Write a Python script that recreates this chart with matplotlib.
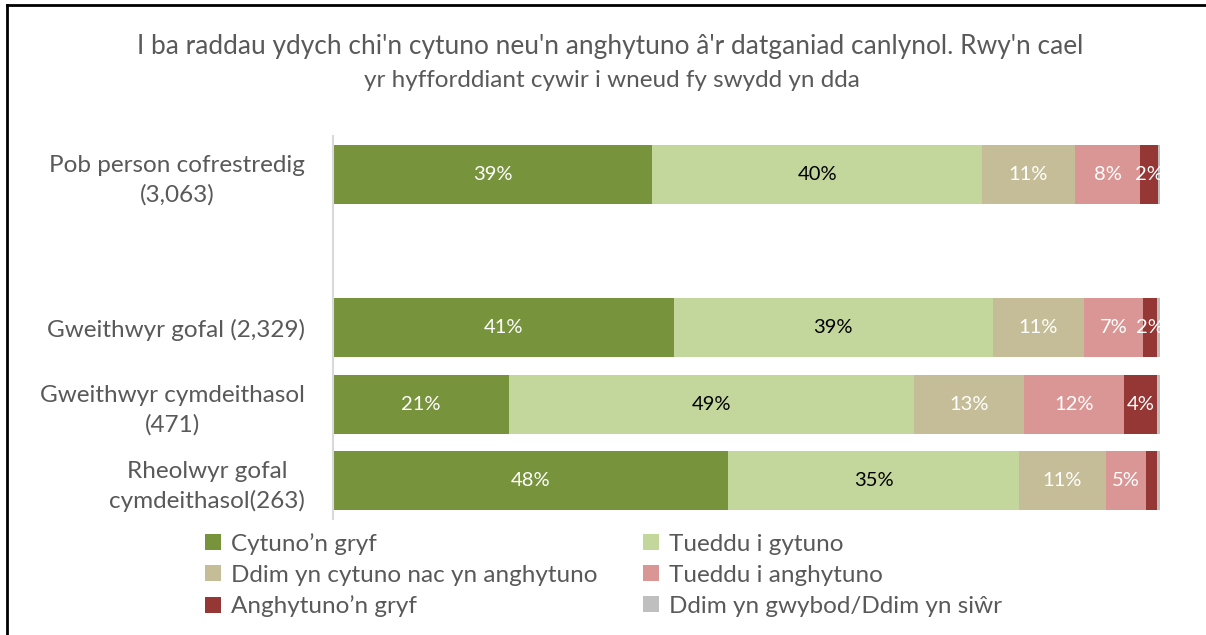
import matplotlib.pyplot as plt
from matplotlib.lines import Line2D

plt.rcParams['font.family'] = ['Lato', 'DejaVu Sans']

groups = ['Pob person cofrestredig\n(3,063)', 'Gweithwyr gofal (2,329)',
          'Gweithwyr cymdeithasol\n(471)', 'Rheolwyr gofal\ncymdeithasol(263)']
positions = [0, 2, 3, 4]

responses = ['Cytuno’n gryf', 'Tueddu i gytuno', 'Ddim yn cytuno nac yn anghytuno',
             'Tueddu i anghytuno', 'Anghytuno’n gryf', 'Ddim yn gwybod/Ddim yn siŵr']
colors = ['#77933C', '#C3D69B', '#C4BD97', '#D99694', '#953735', '#BFBFBF']
label_colors = ['white', 'black', 'white', 'white', 'white', 'white']

# percentage of each group giving each response
strongly_agree = [38.6, 41.2, 21.3, 47.8]
tend_agree = [39.9, 38.6, 48.9, 35.1]
neither = [11.2, 11.0, 13.4, 10.6]
tend_disagree = [7.9, 7.1, 12.1, 4.8]
strongly_disagree = [2.1, 1.7, 3.9, 1.3]
dont_know = [0.3, 0.4, 0.4, 0.4]
series = [strongly_agree, tend_agree, neither, tend_disagree, strongly_disagree, dont_know]

fig = plt.figure(figsize=(12.06, 6.35), dpi=100)
ax = fig.add_axes([0.2761, 0.1827, 0.6858, 0.6031])

left = [0.0] * len(groups)
for i, vals in enumerate(series):
    bars = ax.barh(positions, vals, left=left, height=0.77, color=colors[i],
                   label=responses[i])
    if i < 5:
        labels = [f'{v:.0f}%' if v >= 1.5 else '' for v in vals]
        ax.bar_label(bars, labels=labels, label_type='center',
                     color=label_colors[i], fontsize=14.5)
    left = [a + b for a, b in zip(left, vals)]

ax.set_xlim(0, 100)
ax.set_ylim(4.5, -0.5)
ax.set_yticks(positions)
ax.set_yticklabels(groups, fontsize=17.5, color='#595959',
                   multialignment='center', linespacing=1.45)
ax.tick_params(axis='y', length=0, pad=20)
ax.set_xticks([])
for side in ['top', 'right', 'bottom']:
    ax.spines[side].set_visible(False)
ax.spines['left'].set_color('#D9D9D9')
ax.spines['left'].set_linewidth(1.5)

# two-line title, second line a touch smaller
fig.text(0.506, 0.926, "I ba raddau ydych chi'n cytuno neu'n anghytuno â'r datganiad canlynol. Rwy'n cael",
         ha='center', va='center', fontsize=18.9, color='#595959')
fig.text(0.507, 0.874, "yr hyfforddiant cywir i wneud fy swydd yn dda",
         ha='center', va='center', fontsize=17.5, color='#595959')

# legend laid out row by row
handles, names = ax.get_legend_handles_labels()
order = [0, 2, 4, 1, 3, 5]
fig.legend([handles[k] for k in order], [names[k] for k in order],
           ncol=2, loc='upper left', bbox_to_anchor=(0.16, 0.18),
           frameon=False, fontsize=17.5, labelcolor='#595959',
           handlelength=0.65, handleheight=0.65, handletextpad=0.4,
           columnspacing=1.9, labelspacing=0.41, borderpad=0)

# frame around the chart
fig.add_artist(Line2D([7 / 1206, 1], [1 - 5 / 635, 1 - 5 / 635], color='black', lw=2))
fig.add_artist(Line2D([7 / 1206, 7 / 1206], [0, 1 - 5 / 635], color='black', lw=2))

fig.savefig('out.png', dpi=100)
